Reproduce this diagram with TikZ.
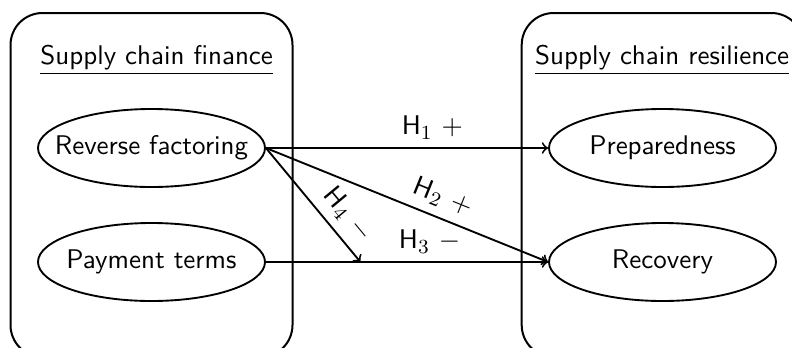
\documentclass[tikz,border=0pt]{standalone}
\usetikzlibrary{shapes.geometric,calc}
\begin{document}
\begin{tikzpicture}[x=0.4pt,y=-0.4pt,font=\sffamily\fontsize{10.8}{13}\selectfont,
  grp/.style={draw,line width=0.8pt,rounded corners=12.8pt},
  oval/.style={draw,ellipse,line width=0.75pt,minimum width=90.8pt,minimum height=31.2pt,inner sep=0pt},
  ttl/.style={anchor=base,inner sep=0pt},
  rel/.style={->,line width=0.75pt},
  lab/.style={above,inner sep=3.2pt}]
\useasboundingbox (0,0) rectangle (792,347);
\clip (0,0) rectangle (792,347);
\draw[grp] (10.5,13) rectangle (292.5,357);
\draw[grp] (521.7,13) rectangle (803.3,357);
\node[ttl] (t1) at (156.7,64.5) {\underline{Supply chain finance}};
\node[ttl] (t2) at (662.2,64.5) {\underline{Supply chain resilience}};
\node[oval] (rf) at (151.5,148) {\makebox[0pt]{Reverse factoring}};
\node[oval] (pt) at (151.5,262) {\makebox[0pt]{Payment terms}};
\node[oval] (pr) at (662.5,148) {\makebox[0pt]{Preparedness}};
\node[oval] (rc) at (662.5,262) {\makebox[0pt]{Recovery}};
\coordinate (m) at ($(pt.east)!0.335!(rc.west)$);
\draw[rel] (rf.east) -- node[lab,pos=0.59] {H$_1$ $+$} (pr.west);
\draw[rel] (rf.east) -- node[lab,sloped,pos=0.6] {H$_2$ $+$} (rc.west);
\draw[rel] (pt.east) -- node[lab,pos=0.58] {H$_3$ $-$} (rc.west);
\draw[rel] (rf.east) -- node[lab,sloped,pos=0.7] {H$_4$ $-$} (m);
\end{tikzpicture}
\end{document}
